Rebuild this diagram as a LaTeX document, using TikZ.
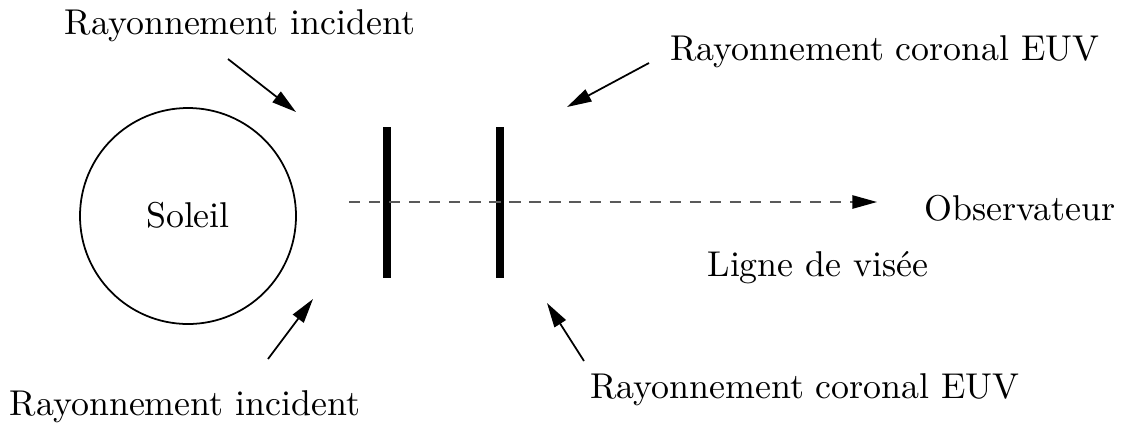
\documentclass[tikz,border=0pt]{standalone}
\usepackage{tikz}
\usetikzlibrary{arrows.meta}

\begin{document}
\begin{tikzpicture}[x=0.01cm,y=-0.01cm,>={Triangle[length=7pt,width=3.8pt]},
  every node/.style={font=\fontsize{10.2pt}{12pt}\selectfont}]
  \tikzstyle{ray}=[->,line width=0.5pt]
  \tikzstyle{slab}=[line width=2.3pt]
  \useasboundingbox (0,0) rectangle (1124,433);
  % Sun
  \draw[line width=0.5pt] (188,216) circle (108);
  \node (soleil) at (188,215) {Soleil};
  % slabs of corona
  \draw[slab] (387,127) -- (387,278);
  \draw[slab] (500,127) -- (500,278);
  % line of sight
  \coordinate (los0) at (349,202);
  \coordinate (los1) at (877,202);
  \draw[-{Triangle[length=7pt,width=3.8pt,color=black]},line width=0.4pt,black!65,
    dash pattern=on 3.2pt off 2.5pt] (los0) -- (los1);
  \node (obs) at (1020,208) {Observateur};
  \node (visee) at (818,268) {Ligne de vis\'ee};
  % labels
  \node (incA) at (240,26) {Rayonnement incident};
  \node (incB) at (185,407) {Rayonnement incident};
  \node (eclA) at (885,52) {Rayonnement coronal EUV};
  \node (eclB) at (805,390) {Rayonnement coronal EUV};
  % arrows
  \coordinate (a0) at (228,59);  \coordinate (a1) at (296,112);
  \coordinate (b0) at (268,359); \coordinate (b1) at (313,299);
  \coordinate (c0) at (649,63);  \coordinate (c1) at (567,107);
  \coordinate (d0) at (584,361); \coordinate (d1) at (547,303);
  \draw[ray] (a0) -- (a1);
  \draw[ray] (b0) -- (b1);
  \draw[ray] (c0) -- (c1);
  \draw[ray] (d0) -- (d1);
\end{tikzpicture}
\end{document}
